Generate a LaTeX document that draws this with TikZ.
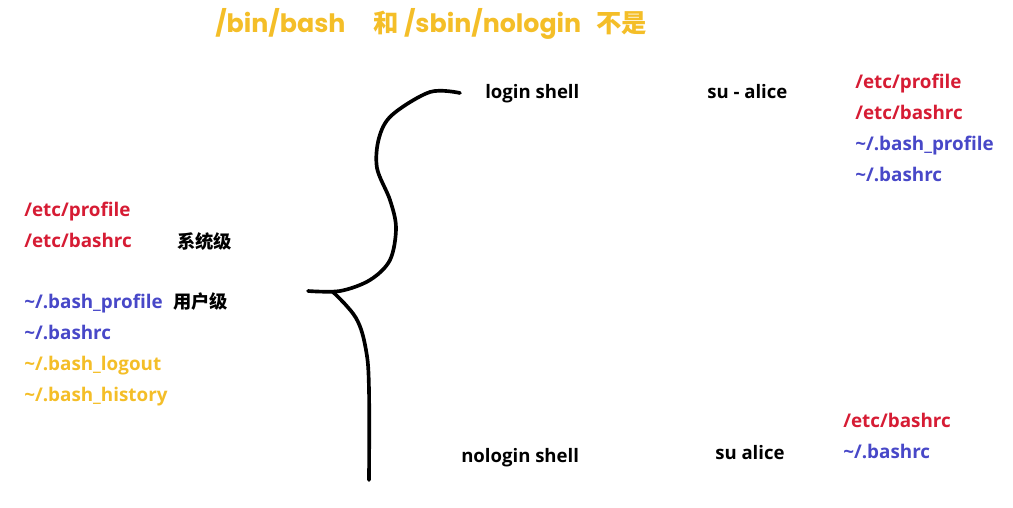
\documentclass[tikz,border=0pt]{standalone}
\usepackage{fontspec}
\setmainfont{Open Sans}
\newfontfamily\cjk{Noto Sans CJK SC}
\newfontfamily\titlefont{Poppins}
\usetikzlibrary{positioning}
\definecolor{sysred}{RGB}{214,28,52}
\definecolor{userblue}{RGB}{72,72,200}
\definecolor{histyellow}{RGB}{244,190,40}

\begin{document}
\begin{tikzpicture}[x=0.025cm, y=-0.025cm,
	every node/.append style={inner sep=0pt, anchor=west, text height=10pt, text depth=3pt,
		yshift=-2pt, font=\bfseries\fontsize{13.4}{15}\selectfont},
	sysfile/.style={text=sysred},
	userfile/.style={text=userblue},
	histfile/.style={text=histyellow},
	level/.style={font=\cjk\bfseries\fontsize{13}{15}\selectfont},
	shell/.style={text=black, font=\bfseries\fontsize{13.2}{15}\selectfont}]
	\useasboundingbox (0,0) rectangle (1013,507);

	% title
	\node[anchor=west, text=histyellow, text height=14pt, text depth=4pt,
	font=\titlefont\bfseries\fontsize{18}{21}\selectfont] at (215,23) (Title)
	{/bin/bash\hspace{1.1em}{\cjk 和} /sbin/nologin\hspace{0.6em}{\cjk 不是}};

	% left: config files
	\node[sysfile] at (24,209) (LProfile){/etc/profile};
	\node[sysfile] at (24,240) (LBashrc){/etc/bashrc};
	\node[level] at (177,241) (Sys){系统级};
	\node[userfile] at (24,301) (LUProfile){\textasciitilde/.bash\_profile};
	\node[level] at (173,301) (User){用户级};
	\node[userfile] at (24,332) (LUBashrc){\textasciitilde/.bashrc};
	\node[histfile] at (24,363) (LLogout){\textasciitilde/.bash\_logout};
	\node[histfile] at (24,394) (LHistory){\textasciitilde/.bash\_history};

	% brace
	\draw[line width=2.6pt, line cap=round] plot[smooth, tension=0.55] coordinates
	{(460,93) (430,92) (392,115) (379,138) (377,168) (390,200) (396,228) (390,260) (370,280) (340,291) (308,291)};
	\draw[line width=2.6pt, line cap=round] plot[smooth, tension=0.6] coordinates
	{(333,292) (356,318) (366,350) (369,390) (369,480)};

	% login shell
	\node[shell] at (485,91) (Login){login shell};
	\node[shell] at (707,91) (SuDash){su - alice};
	\node[sysfile] at (855,81) (RProfile){/etc/profile};
	\node[sysfile] at (855,112) (RBashrc){/etc/bashrc};
	\node[userfile] at (855,143) (RUProfile){\textasciitilde/.bash\_profile};
	\node[userfile] at (855,174) (RUBashrc){\textasciitilde/.bashrc};

	% nologin shell
	\node[shell] at (461,455) (Nologin){nologin shell};
	\node[shell] at (715,452) (Su){su alice};
	\node[sysfile] at (843,420) (NBashrc){/etc/bashrc};
	\node[userfile] at (843,451) (NUBashrc){\textasciitilde/.bashrc};
\end{tikzpicture}
\end{document}
